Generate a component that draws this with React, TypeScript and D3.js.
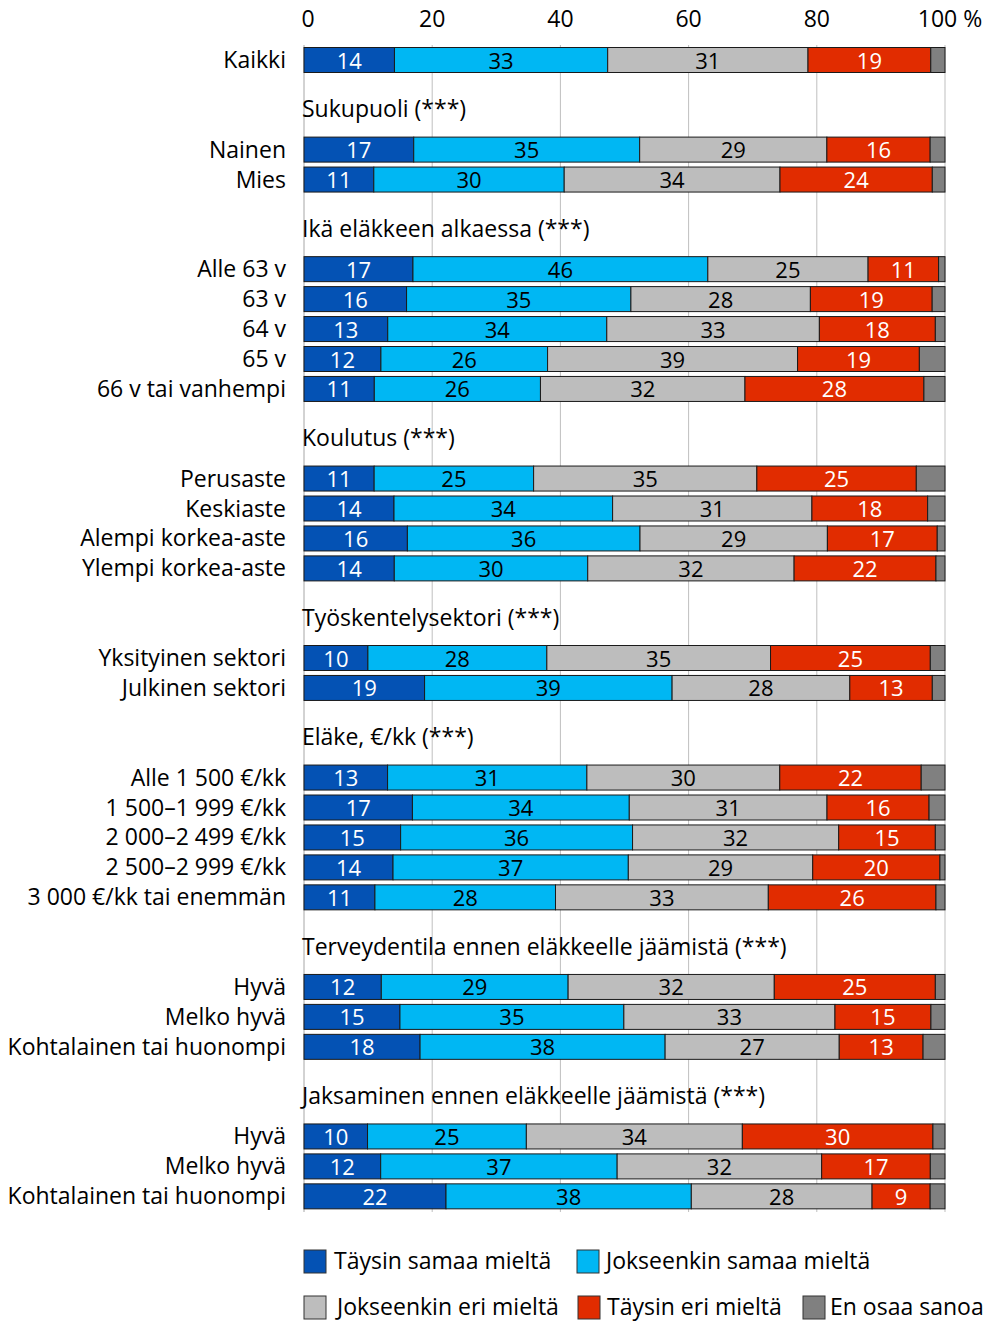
import React from 'react'
import * as d3 from 'd3'

// Series names and colours
const seriesNames = ['Täysin samaa mieltä', 'Jokseenkin samaa mieltä', 'Jokseenkin eri mieltä', 'Täysin eri mieltä', 'En osaa sanoa']
const seriesColors = ['#0452b4', '#00b7f3', '#bdbdbd', '#e12c00', '#808080']
const labelColors = ['#ffffff', '#000000', '#000000', '#ffffff', '#000000']

// Group headers (null = no header)
const groupHeaders = [
  null,
  'Sukupuoli (***)',
  'Ikä eläkkeen alkaessa (***)',
  'Koulutus (***)',
  'Työskentelysektori (***)',
  'Eläke, €/kk (***)',
  'Terveydentila ennen eläkkeelle jäämistä (***)',
  'Jaksaminen ennen eläkkeelle jäämistä (***)',
]

const groupCategories = [
  ['Kaikki'],
  ['Nainen', 'Mies'],
  ['Alle 63 v', '63 v', '64 v', '65 v', '66 v tai vanhempi'],
  ['Perusaste', 'Keskiaste', 'Alempi korkea-aste', 'Ylempi korkea-aste'],
  ['Yksityinen sektori', 'Julkinen sektori'],
  ['Alle 1 500 €/kk', '1 500–1 999 €/kk', '2 000–2 499 €/kk', '2 500–2 999 €/kk', '3 000 €/kk tai enemmän'],
  ['Hyvä', 'Melko hyvä', 'Kohtalainen tai huonompi'],
  ['Hyvä', 'Melko hyvä', 'Kohtalainen tai huonompi'],
]

// values per row: [täysin samaa, jokseenkin samaa, jokseenkin eri, täysin eri, en osaa]
const groupValues = [
  [[14, 33, 31, 19, 2.2]],
  [[17, 35, 29, 16, 2.3], [11, 30, 34, 24, 2]],
  [[17, 46, 25, 11, 1], [16, 35, 28, 19, 2], [13, 34, 33, 18, 1.5], [12, 26, 39, 19, 4], [11, 26, 32, 28, 3.3]],
  [[11, 25, 35, 25, 4.5], [14, 34, 31, 18, 2.7], [16, 36, 29, 17, 1.2], [14, 30, 32, 22, 1.4]],
  [[10, 28, 35, 25, 2.3], [19, 39, 28, 13, 2]],
  [[13, 31, 30, 22, 3.7], [17, 34, 31, 16, 2.5], [15, 36, 32, 15, 1.5], [14, 37, 29, 20, 0.8], [11, 28, 33, 26, 1.4]],
  [[12, 29, 32, 25, 1.5], [15, 35, 33, 15, 2.2], [18, 38, 27, 13, 3.4]],
  [[10, 25, 34, 30, 1.9], [12, 37, 32, 17, 2.3], [22, 38, 28, 9, 2.3]],
]

const xTicks = [0, 20, 40, 60, 80, 100]

const W = 991
const H = 1322
const FONT = '"Open Sans", sans-serif'
const FS = 23

export default function App() {
  const x = d3.scaleLinear().domain([0, 100]).range([304, 945])
  const barH = 25

  // vertical layout
  type Item = { kind: 'row' | 'header'; y: number; label: string; values?: number[] }
  const items: Item[] = []
  let y = 60
  let prev: 'row' | 'header' | null = null
  groupHeaders.forEach((h, gi) => {
    if (h) {
      if (prev) y += 49.3
      items.push({ kind: 'header', y, label: h })
      prev = 'header'
    }
    groupCategories[gi].forEach((c, ri) => {
      if (prev === 'header') y += 40.3
      else if (prev === 'row') y += 29.95
      items.push({ kind: 'row', y, label: c, values: groupValues[gi][ri] })
      prev = 'row'
    })
  })
  const gridTop = 45
  const gridBottom = 1212

  const legendRows = [
    [
      { i: 0, x: 304, tx: 334 },
      { i: 1, x: 577, tx: 606 },
    ],
    [
      { i: 2, x: 304, tx: 337 },
      { i: 3, x: 578, tx: 607 },
      { i: 4, x: 803, tx: 830 },
    ],
  ]
  const legendY = [1261, 1307]

  return (
    <svg width={W} height={H} style={{ position: 'absolute', left: 0, top: 0, background: '#fff' }} fontFamily={FONT}>
      {xTicks.map((t) => (
        <line key={'g' + t} x1={x(t)} x2={x(t)} y1={gridTop} y2={gridBottom} stroke={t === 0 ? '#a6a6a6' : '#bfbfbf'} strokeWidth={1} />
      ))}
      {xTicks.map((t) => (
        <text key={'t' + t} x={t === 100 ? x(t) + 5 : x(t) + (t === 0 ? 4 : 0)} y={27} fontSize={FS} textAnchor="middle" fill="#000">
          {t === 100 ? '100 %' : t}
        </text>
      ))}
      {items.map((it, k) => {
        if (it.kind === 'header') {
          return (
            <text key={k} x={302} y={it.y + 8} fontSize={FS} fill="#000">
              {it.label}
            </text>
          )
        }
        const vals = it.values!
        const total = d3.sum(vals)
        const scaled = vals.map((v) => (v * 100) / total)
        const starts = d3.cumsum([0, ...scaled])
        return (
          <g key={k}>
            <text x={286} y={it.y + 8} fontSize={FS} textAnchor="end" fill="#000">
              {it.label}
            </text>
            {scaled.map((v, si) => (
              <rect
                key={si}
                x={x(starts[si])}
                y={it.y - barH / 2}
                width={x(starts[si] + v) - x(starts[si])}
                height={barH}
                fill={seriesColors[si]}
                stroke="#1a1a1a"
                strokeWidth={1}
              />
            ))}
            {vals.slice(0, 4).map((v, si) => (
              <text
                key={'l' + si}
                x={(x(starts[si]) + x(starts[si] + scaled[si])) / 2}
                y={it.y + 8.5}
                fontSize={FS - 1}
                textAnchor="middle"
                fill={labelColors[si]}
              >
                {v}
              </text>
            ))}
          </g>
        )
      })}
      {legendRows.map((row, ri) =>
        row.map((e) => (
          <g key={ri + '-' + e.i}>
            <rect x={e.x} y={legendY[ri] - 11} width={22} height={23} fill={seriesColors[e.i]} stroke="#333" strokeWidth={1} />
            <text x={e.tx} y={legendY[ri] + 8} fontSize={FS} fill="#000">
              {seriesNames[e.i]}
            </text>
          </g>
        )),
      )}
    </svg>
  )
}
